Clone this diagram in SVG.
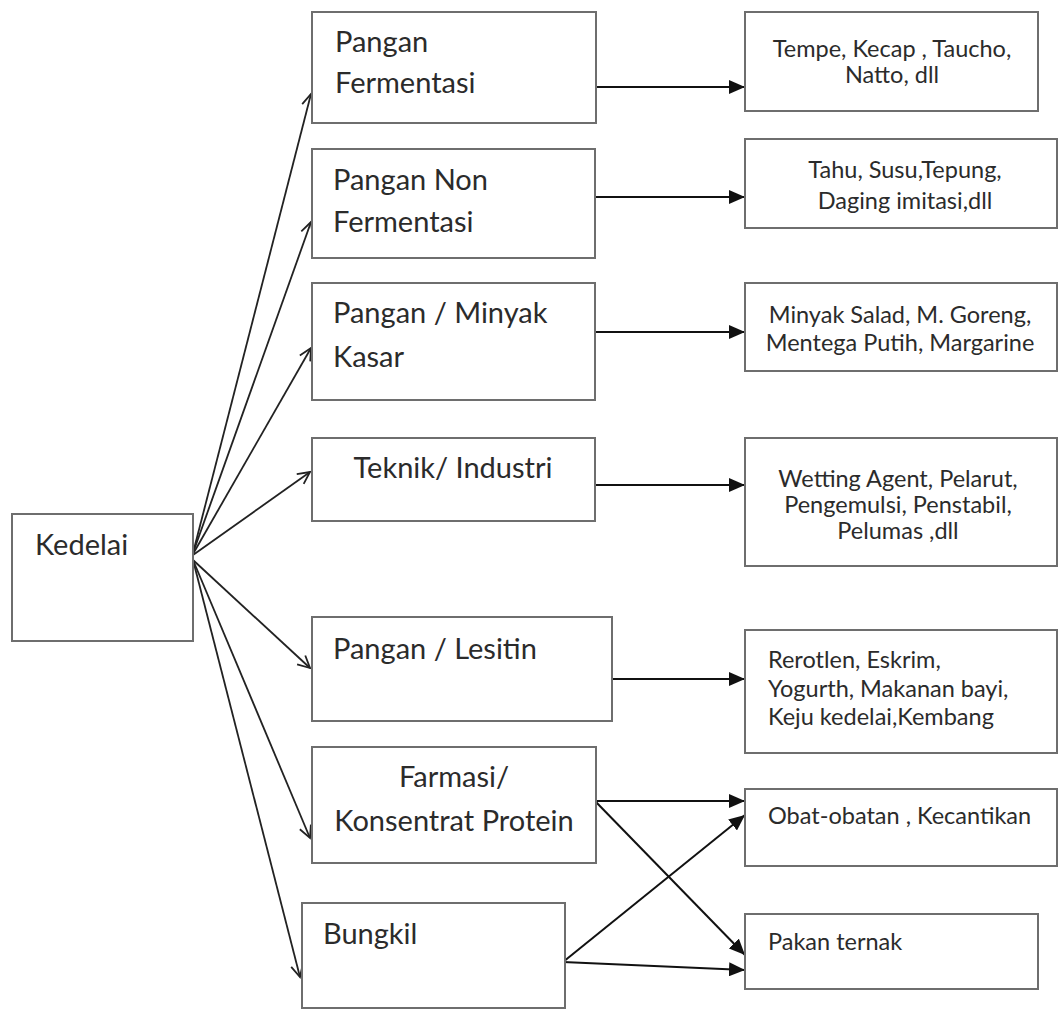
<svg xmlns="http://www.w3.org/2000/svg" width="1059" height="1011" viewBox="0 0 1059 1011">
<style>
.box{fill:#fff;stroke:#6e6e6e;stroke-width:2}
.t{font-family:Lato,"Liberation Sans",sans-serif;fill:#2b2b2b}
.m{font-size:29px}
.r{font-size:23.5px}
.c{text-anchor:middle}
.open{fill:none;stroke:#222;stroke-width:1.8;marker-end:url(#openArrow)}
.solid{fill:none;stroke:#111;stroke-width:2;marker-end:url(#solidArrow)}
</style>
<defs>
<marker id="openArrow" markerUnits="userSpaceOnUse" markerWidth="16" markerHeight="16" refX="13" refY="7" orient="auto" viewBox="0 0 16 14">
<path d="M1,1 L13,7 L1,13" fill="none" stroke="#222" stroke-width="1.8"/>
</marker>
<marker id="solidArrow" markerUnits="userSpaceOnUse" markerWidth="16" markerHeight="14" refX="16" refY="7" orient="auto" viewBox="0 0 16 14">
<path d="M0,0 L16,7 L0,14 Z" fill="#111"/>
</marker>
</defs>
<rect width="1059" height="1011" fill="#fff"/>

<g id="connectors">
<path class="open" d="M193,553 L311,94"/>
<path class="open" d="M193,553 L311,222"/>
<path class="open" d="M193,554 L311,348"/>
<path class="open" d="M193,555 L310,472"/>
<path class="open" d="M193,560 L310,668"/>
<path class="open" d="M193,560 L310,838"/>
<path class="open" d="M193,560 L300,977"/>
<path class="solid" d="M594,87 L745,87"/>
<path class="solid" d="M595,197 L745,197"/>
<path class="solid" d="M595,332 L745,332"/>
<path class="solid" d="M595,485 L745,485"/>
<path class="solid" d="M612,679 L745,679"/>
<path class="solid" d="M595,801 L745,801"/>
<path class="solid" d="M595,801 L745,955"/>
<path class="solid" d="M563,962 L745,815"/>
<path class="solid" d="M563,962 L745,970"/>
</g>

<g id="kedelai">
<rect class="box" x="12" y="514" width="181" height="127"/>
<text class="t m" x="35" y="555">Kedelai</text>
</g>

<g id="pangan-fermentasi">
<rect class="box" x="312" y="12" width="284" height="111"/>
<text class="t m" x="335" y="52">Pangan</text>
<text class="t m" x="335" y="93">Fermentasi</text>
</g>

<g id="pangan-non-fermentasi">
<rect class="box" x="312" y="149" width="283" height="109"/>
<text class="t m" x="333" y="190">Pangan Non</text>
<text class="t m" x="333" y="232">Fermentasi</text>
</g>

<g id="pangan-minyak">
<rect class="box" x="312" y="283" width="283" height="117"/>
<text class="t m" x="333" y="323">Pangan / Minyak</text>
<text class="t m" x="333" y="367">Kasar</text>
</g>

<g id="teknik">
<rect class="box" x="312" y="438" width="283" height="83"/>
<text class="t m c" x="453" y="478">Teknik/ Industri</text>
</g>

<g id="lesitin">
<rect class="box" x="312" y="617" width="300" height="104"/>
<text class="t m" x="333" y="659">Pangan / Lesitin</text>
</g>

<g id="farmasi">
<rect class="box" x="312" y="747" width="284" height="116"/>
<text class="t m c" x="454" y="787">Farmasi/</text>
<text class="t m c" x="454" y="831">Konsentrat Protein</text>
</g>

<g id="bungkil">
<rect class="box" x="302" y="903" width="263" height="105"/>
<text class="t m" x="323" y="944">Bungkil</text>
</g>

<g id="hasil-fermentasi">
<rect class="box" x="745" y="12" width="293" height="99"/>
<text class="t r c" x="892" y="57">Tempe, Kecap , Taucho,</text>
<text class="t r c" x="892" y="83">Natto, dll</text>
</g>

<g id="hasil-non-fermentasi">
<rect class="box" x="745" y="139" width="312" height="89"/>
<text class="t r c" x="905" y="178">Tahu, Susu,Tepung,</text>
<text class="t r c" x="905" y="209">Daging imitasi,dll</text>
</g>

<g id="hasil-minyak">
<rect class="box" x="745" y="283" width="312" height="88"/>
<text class="t r c" x="900" y="323">Minyak Salad, M. Goreng,</text>
<text class="t r c" x="900" y="351">Mentega Putih, Margarine</text>
</g>

<g id="hasil-teknik">
<rect class="box" x="745" y="438" width="312" height="128"/>
<text class="t r c" x="898" y="487">Wetting Agent, Pelarut,</text>
<text class="t r c" x="898" y="513">Pengemulsi, Penstabil,</text>
<text class="t r c" x="898" y="539">Pelumas ,dll</text>
</g>

<g id="hasil-lesitin">
<rect class="box" x="745" y="630" width="312" height="123"/>
<text class="t r" x="768" y="668">Rerotlen, Eskrim,</text>
<text class="t r" x="768" y="697">Yogurth, Makanan bayi,</text>
<text class="t r" x="768" y="725">Keju kedelai,Kembang</text>
</g>

<g id="hasil-farmasi">
<rect class="box" x="745" y="789" width="312" height="77"/>
<text class="t r" x="768" y="824">Obat-obatan , Kecantikan</text>
</g>

<g id="pakan-ternak">
<rect class="box" x="745" y="914" width="293" height="75"/>
<text class="t r" x="768" y="950">Pakan ternak</text>
</g>
</svg>
